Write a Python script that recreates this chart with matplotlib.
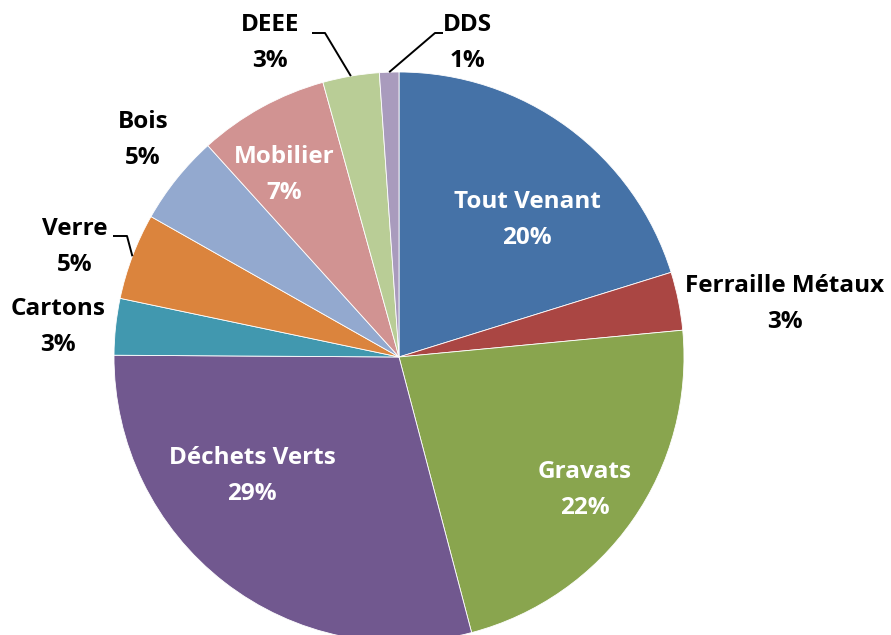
import matplotlib
matplotlib.use("Agg")
import matplotlib.pyplot as plt
import numpy as np

categories = ["Tout Venant", "Ferraille Métaux", "Gravats", "Déchets Verts", "Cartons",
              "Verre", "Bois", "Mobilier", "DEEE", "DDS"]
values = [20.2, 3.3, 22.4, 29.2, 3.2, 4.9, 5.1, 7.4, 3.2, 1.1]
colors = ["#4572A7", "#AA4643", "#89A54E", "#71588F", "#4198AF",
          "#DB843D", "#93A9CF", "#D19392", "#B9CD96", "#A99BBD"]

W, H = 891, 635
fig = plt.figure(figsize=(W / 100, H / 100), dpi=100)
ax = fig.add_axes([0, 0, 1, 1])

cx, cy, R = 399, H - 357, 285
wedges, _ = ax.pie(values, colors=colors, startangle=90, counterclock=False,
                   center=(cx, cy), radius=R, frame=True,
                   wedgeprops=dict(edgecolor="white", linewidth=0.6))
ax.set_xlim(0, W)
ax.set_ylim(0, H)
ax.set_aspect("auto")
ax.axis("off")

# label layout (pixel coords, y from top), text colour
label_pos = [(527, 220), (785, 304), (585, 490), (252, 476), (58, 327),
             (75, 247), (143, 140), (284, 175), (270, 43), (467, 43)]
label_col = ["white", "black", "white", "white", "black",
             "black", "black", "white", "black", "black"]

total = sum(values)
font = dict(family=["Open Sans", "DejaVu Sans"], fontweight="bold", fontsize=17.5)
for name, v, (lx, ly), col in zip(categories, values, label_pos, label_col):
    pct = f"{round(100 * v / total):d}%"
    ax.text(lx, H - ly + 18, name, ha="center", va="center", color=col, **font)
    ax.text(lx, H - ly - 18, pct, ha="center", va="center", color=col, **font)

# leader lines: from label side to wedge edge (mid angle)
leaders = {5: (113, 236, 127), 8: (312, 33, 325), 9: (443, 33, 435)}
for i, (x0, y0, x1) in leaders.items():
    w = wedges[i]
    mid = np.deg2rad((w.theta1 + w.theta2) / 2)
    tx, ty = cx + R * np.cos(mid), cy + R * np.sin(mid)
    ax.plot([x0, x1, tx], [H - y0, H - y0, ty], color="black", lw=1.4,
            solid_capstyle="butt", zorder=5)

fig.savefig("out.png", dpi=100)
